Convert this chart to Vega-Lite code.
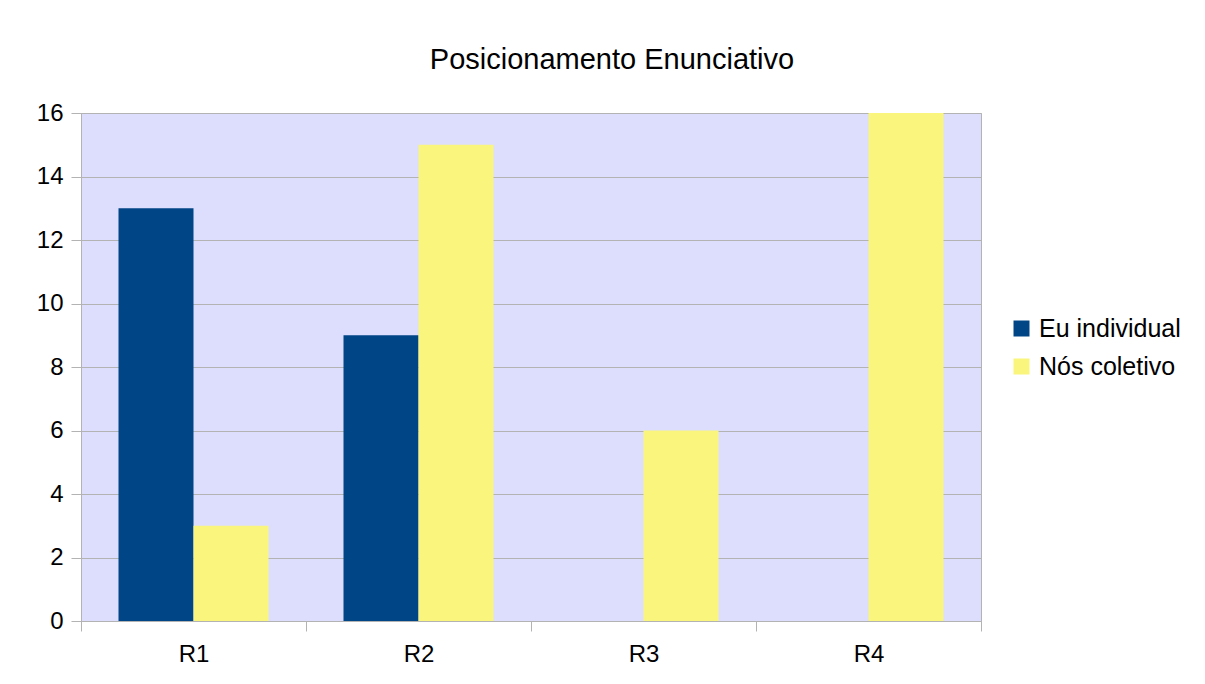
{
  "$schema": "https://vega.github.io/schema/vega-lite/v6.json",
  "autosize": {"type": "none"},
  "padding": {"left": 81, "top": 113, "right": 224, "bottom": 63},
  "width": 900,
  "height": 508,
  "background": "white",
  "title": {
    "text": "Posicionamento Enunciativo",
    "anchor": "middle",
    "dx": 81,
    "offset": 3,
    "baseline": "alphabetic",
    "font": "Liberation Sans",
    "fontSize": 29,
    "fontWeight": "normal",
    "color": "#000000"
  },
  "data": {
    "values": [
      {"reg": "R1", "serie": "Eu individual", "valor": 13},
      {"reg": "R1", "serie": "Nós coletivo", "valor": 3},
      {"reg": "R2", "serie": "Eu individual", "valor": 9},
      {"reg": "R2", "serie": "Nós coletivo", "valor": 15},
      {"reg": "R3", "serie": "Eu individual", "valor": 0},
      {"reg": "R3", "serie": "Nós coletivo", "valor": 6},
      {"reg": "R4", "serie": "Eu individual", "valor": 0},
      {"reg": "R4", "serie": "Nós coletivo", "valor": 16}
    ]
  },
  "mark": {"type": "bar"},
  "encoding": {
    "x": {
      "field": "reg",
      "type": "nominal",
      "scale": {"paddingInner": 0, "paddingOuter": 0},
      "axis": {
        "title": null,
        "labelAngle": 0,
        "tickBand": "extent",
        "grid": false,
        "domainColor": "#b3b3b3",
        "tickColor": "#b3b3b3",
        "tickSize": 10,
        "labelPadding": 11,
        "labelFont": "Liberation Sans",
        "labelFontSize": 24,
        "labelColor": "#000000"
      }
    },
    "xOffset": {
      "field": "serie",
      "type": "nominal",
      "scale": {"domain": ["Eu individual", "Nós coletivo"], "paddingInner": 0, "paddingOuter": 0.5}
    },
    "y": {
      "field": "valor",
      "type": "quantitative",
      "scale": {"domain": [0, 16], "nice": false},
      "axis": {
        "title": null,
        "values": [0, 2, 4, 6, 8, 10, 12, 14, 16],
        "grid": true,
        "gridColor": "#b3b3b3",
        "domainColor": "#b3b3b3",
        "tickColor": "#b3b3b3",
        "tickSize": 10,
        "labelPadding": 8,
        "labelFont": "Liberation Sans",
        "labelFontSize": 24,
        "labelColor": "#000000"
      }
    },
    "color": {
      "field": "serie",
      "type": "nominal",
      "scale": {"domain": ["Eu individual", "Nós coletivo"], "range": ["#004586", "#faf57c"]},
      "legend": {
        "title": null,
        "orient": "none",
        "legendX": 928,
        "legendY": 203,
        "symbolType": "square",
        "symbolSize": 256,
        "symbolStrokeWidth": 0,
        "symbolOpacity": 1,
        "labelFont": "Liberation Sans",
        "labelFontSize": 25,
        "labelColor": "#000000",
        "labelOffset": 5,
        "rowPadding": 12
      }
    }
  },
  "config": {
    "view": {"fill": "#dddefe", "stroke": "#b3b3b3"},
    "axis": {"gridWidth": 1, "domainWidth": 1, "tickWidth": 1}
  }
}
